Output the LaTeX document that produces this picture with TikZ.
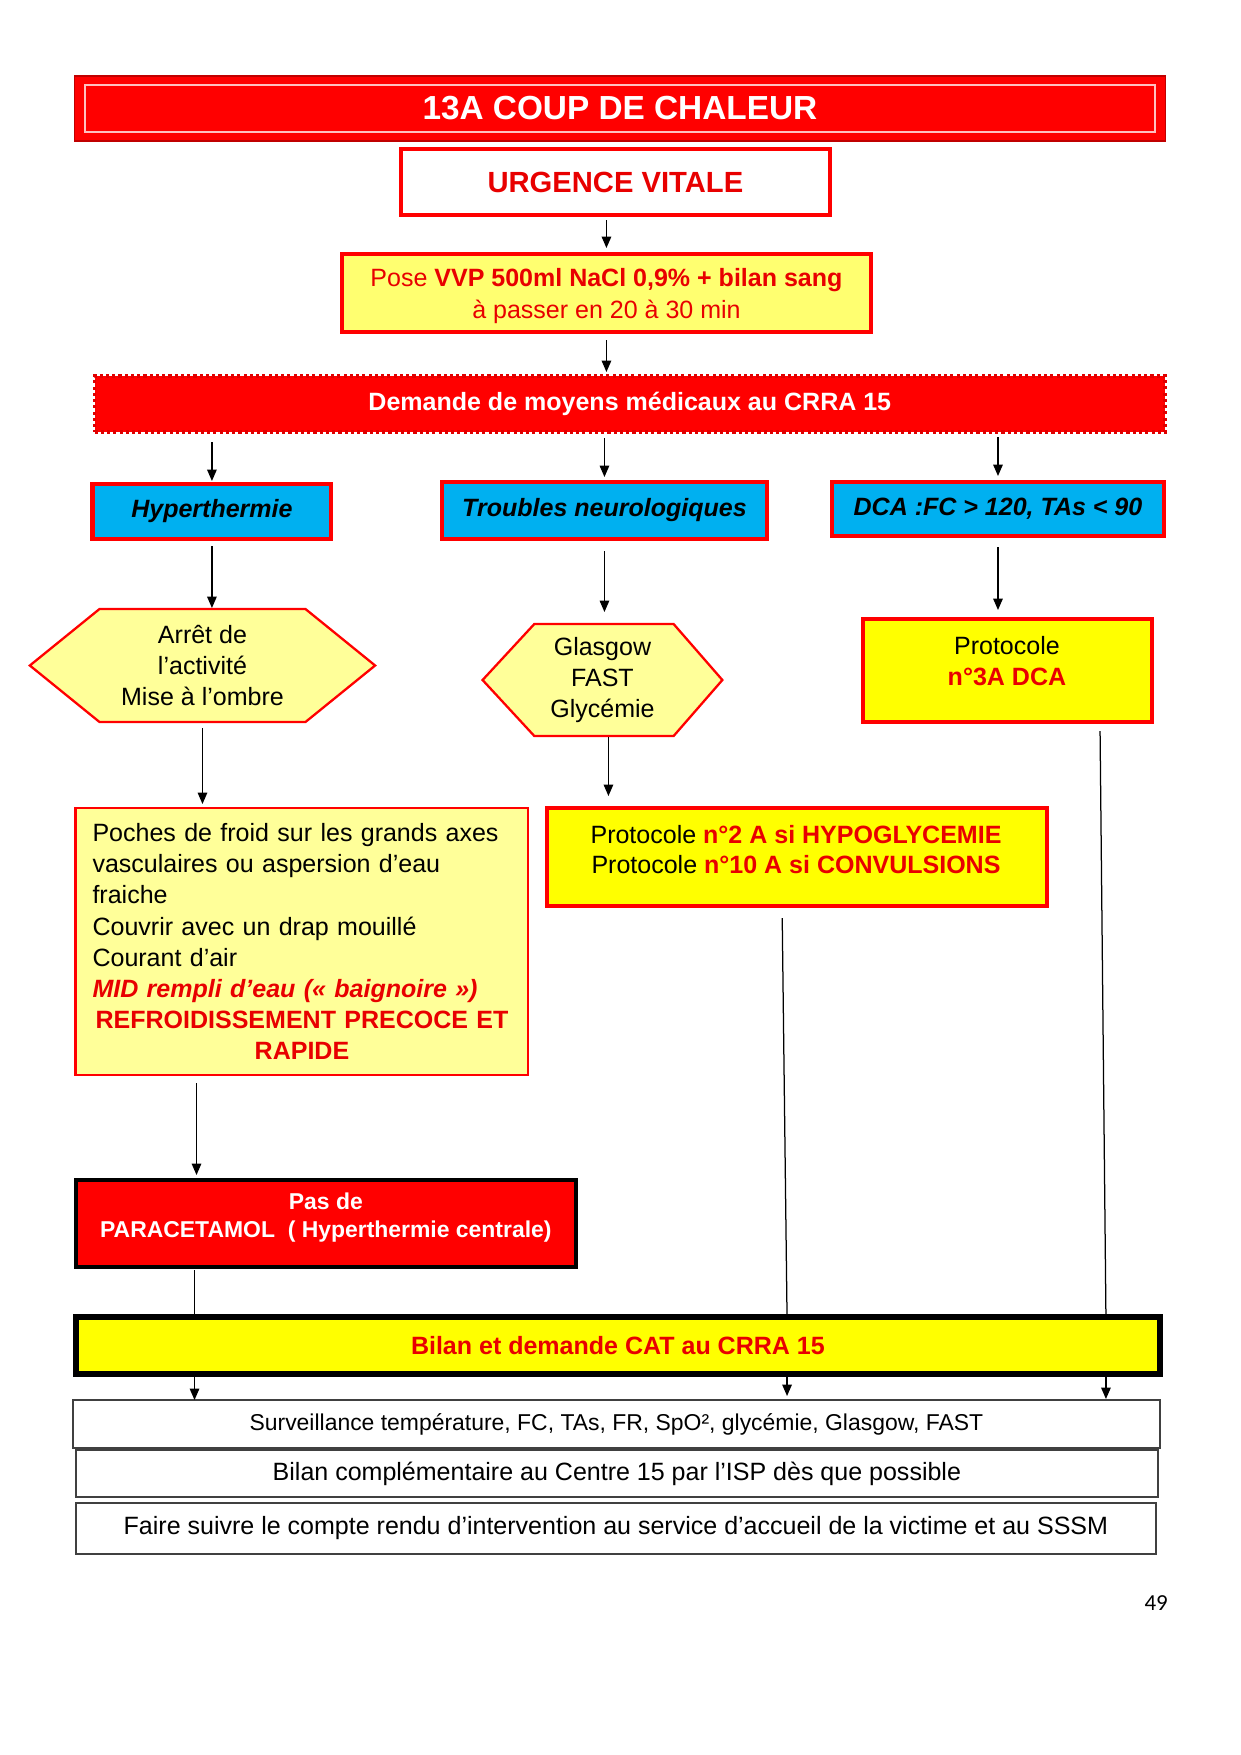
\documentclass[tikz,border=0pt]{standalone}
\usepackage{fontspec}
\setmainfont{Liberation Sans}
\newfontfamily\calib{Carlito}
\usetikzlibrary{arrows.meta,calc}
\pgfdeclarelayer{bg}
\pgfsetlayers{bg,main}
\newlength\pxu
\setlength\pxu{0.47968pt}
\newlength\pxw
\setlength\pxw{0.47728pt}
\definecolor{myred}{HTML}{FF0000}
\definecolor{textred}{HTML}{E80000}
\definecolor{darkred}{HTML}{C00000}
\definecolor{dotred}{HTML}{E00000}
\definecolor{lightyel}{HTML}{FFFF99}
\definecolor{vvpyel}{HTML}{FFFF70}
\definecolor{yel}{HTML}{FFFF00}
\definecolor{cyanblue}{HTML}{00B0F0}
\definecolor{framegray}{HTML}{404040}
\definecolor{pinkline}{HTML}{FFC0C0}
\tikzset{
  box/.style={rectangle, inner sep=0pt, outer sep=0pt, align=center,
    font=\fontsize{12}{14.9}\selectfont},
  arr/.style={line width=0.6pt, -{Triangle[length=5.5pt,width=4.6pt]}},
  ln/.style={line width=0.6pt},
  hexst/.style={fill=lightyel, draw=myred, line width=1.1pt, line join=miter},
  bluebox/.style={box, fill=cyanblue, draw=myred, line width=2pt,
    font=\bfseries\itshape\fontsize{12}{14.9}\selectfont},
  infobox/.style={box, fill=white, draw=framegray, line width=1pt},
}
\begin{document}
\begin{tikzpicture}[x=0.47728pt,y=-0.47968pt]
\useasboundingbox (0,0) rectangle (1247.2,1755);

% title
\node[box, fill=myred, draw=darkred, line width=0.6pt, minimum width=1096\pxw,
  minimum height=65\pxu, text=white, font=\bfseries\fontsize{16}{19}\selectfont]
  (title) at (623,108.5) {13A COUP DE CHALEUR};
\draw[pinkline, line width=1pt] ([shift={(10\pxw,-9\pxu)}]title.north west)
  rectangle ([shift={(-10\pxw,9\pxu)}]title.south east);

% urgence
\node[box, fill=white, draw=myred, line width=2.2pt, minimum width=431\pxw,
  minimum height=66\pxu, text=textred, font=\bfseries\fontsize{14}{17}\selectfont]
  (urg) at (618.5,182) {URGENCE VITALE};

% VVP
\node[box, fill=vvpyel, draw=myred, line width=1.9pt, minimum width=531\pxw,
  minimum height=78\pxu] (vvp) at (609.5,293) {};
\node[box, text=textred] (vvptxt) at (609.5,296)
  {Pose \textbf{VVP 500ml NaCl 0,9\% + bilan sang}\\à passer en 20 à 30 min};

% demande
\node[box, fill=myred, draw=dotred, line width=1.6pt, dash pattern=on 1.5pt off 1.5pt,
  minimum width=1076\pxw, minimum height=56\pxu, text=white,
  font=\bfseries\fontsize{12}{14.9}\selectfont]
  (dem) at (633,404) {Demande de moyens médicaux au CRRA 15};

% blue boxes
\node[bluebox, minimum width=240\pxw, minimum height=55\pxu] (hyp) at (213,511.5) {Hyperthermie};
\node[bluebox, minimum width=327\pxw, minimum height=57\pxu] (tro) at (607.5,510.5) {Troubles neurologiques};
\node[bluebox, minimum width=334\pxw, minimum height=54\pxu] (dca) at (1003,509) {DCA :FC > 120, TAs < 90};

% hexagons
\node[box, minimum width=347\pxw, minimum height=113\pxu,
  font=\fontsize{12}{15.1}\selectfont] (hex1) at (203.5,665.5)
  {Arrêt de\\l’activité\\Mise à l’ombre};
\node[box, minimum width=241\pxw, minimum height=112\pxu] (hex2) at (605.5,680)
  {Glasgow\\FAST\\Glycémie};
\begin{pgfonlayer}{bg}
\draw[hexst] (hex1.west) -- ([xshift=70\pxw]hex1.north west) -- ([xshift=-70\pxw]hex1.north east)
  -- (hex1.east) -- ([xshift=-70\pxw]hex1.south east) -- ([xshift=70\pxw]hex1.south west) -- cycle;
\draw[hexst] (hex2.west) -- ([xshift=52\pxw]hex2.north west) -- ([xshift=-49\pxw]hex2.north east)
  -- (hex2.east) -- ([xshift=-49\pxw]hex2.south east) -- ([xshift=52\pxw]hex2.south west) -- cycle;
\end{pgfonlayer}

% protocole 3A
\node[box, fill=yel, draw=myred, line width=2pt, minimum width=291\pxw,
  minimum height=103\pxu] (p3a) at (1012.5,670.5) {};
\node[box] (p3atxt) at (1012,661) {Protocole\\\textcolor{textred}{\bfseries n°3A DCA}};

% poches
\node[box, fill=lightyel, draw=myred, line width=1.1pt, align=left,
  inner xsep=17\pxw, text width=421\pxw, minimum height=267\pxu]
  (poches) at (303.5,941.5) {Poches de froid sur les grands axes\\
vasculaires ou aspersion d’eau\\
fraiche\\
Couvrir avec un drap mouillé\\
Courant d’air\\
\textcolor{textred}{\bfseries\itshape MID rempli d’eau (« baignoire »)}\\
\makebox[421\pxw]{\textcolor{textred}{\bfseries REFROIDISSEMENT PRECOCE ET}}\\
\makebox[421\pxw]{\textcolor{textred}{\bfseries RAPIDE}}};

% protocole 2
\node[box, fill=yel, draw=myred, line width=2pt, minimum width=502\pxw,
  minimum height=98\pxu] (p2) at (801,857) {};
\node[box, font=\fontsize{12}{14.4}\selectfont] (p2txt) at (800,850)
  {Protocole \textcolor{textred}{\bfseries n°2 A si HYPOGLYCEMIE}\\
   Protocole \textcolor{textred}{\bfseries n°10 A si CONVULSIONS}};

% paracetamol
\node[box, fill=myred, draw=black, line width=2pt, minimum width=503\pxw,
  minimum height=87\pxu] (para) at (327.5,1223.5) {};
\node[box, text=white, font=\bfseries\fontsize{11}{13.4}\selectfont] (paratxt) at (327.5,1218)
  {Pas de\\PARACETAMOL\ \ ( Hyperthermie centrale)};

% bilan CAT
\node[box, fill=yel, draw=black, line width=2.8pt, minimum width=1090\pxw,
  minimum height=57\pxu, text=textred, font=\bfseries\fontsize{12}{14.9}\selectfont]
  (bilan) at (621,1345.5) {Bilan et demande CAT au CRRA 15};

% info boxes
\node[infobox, minimum width=1093\pxw, minimum height=48\pxu,
  font=\fontsize{11}{13}\selectfont] (surv) at (619.5,1424)
  {Surveillance température, FC, TAs, FR, SpO², glycémie, Glasgow, FAST};
\node[infobox, minimum width=1088\pxw, minimum height=47\pxu] (bcomp) at (620,1473.5)
  {Bilan complémentaire au Centre 15 par l’ISP dès que possible};
\node[infobox, minimum width=1086\pxw, minimum height=51\pxu] (faire) at (619,1528.5)
  {Faire suivre le compte rendu d’intervention au service d’accueil de la victime et au SSSM};

\node[inner sep=0pt, font=\calib\fontsize{11}{13}\selectfont] (pg) at (1162,1603) {49};

% connectors
\draw[arr, shorten <=5\pxu, shorten >=6\pxu] (vvp.north |- urg.south) -- (vvp.north);
\draw[arr, shorten <=8\pxu, shorten >=4\pxu] (vvp.south) -- (vvp.south |- dem.north);
\draw[arr, shorten <=10\pxu, shorten >=3\pxu] (dem.south -| hyp.north) -- (hyp.north);
\draw[arr, shorten <=6\pxu, shorten >=5\pxu] (dem.south -| tro.north) -- (tro.north);
\draw[arr, shorten <=5\pxu, shorten >=6\pxu] (dem.south -| dca.north) -- (dca.north);
\draw[arr, shorten <=7\pxu, shorten >=1\pxu] (hyp.south) -- (hyp.south |- hex1.north);
\draw[arr, shorten <=12\pxu, shorten >=12\pxu] (tro.south) -- (tro.south |- hex2.north);
\draw[arr, shorten <=11\pxu, shorten >=9\pxu] (dca.south) -- (dca.south |- p3a.north);
\draw[arr, shorten <=6\pxu, shorten >=4\pxu] (hex1.south) -- (hex1.south |- poches.north);
\draw[arr, shorten <=1\pxu, shorten >=12\pxu] ([xshift=6\pxw]hex2.south) -- ([xshift=6\pxw]hex2.south |- p2.north);
\draw[arr, shorten <=8\pxu, shorten >=5\pxu] ([xshift=-106\pxw]poches.south) -- ([xshift=-106\pxw]poches.south |- para.north);
\draw[ln, shorten <=3\pxu] ([xshift=-132\pxw]para.south) -- ([xshift=-132\pxw]para.south |- bilan.north);
\draw[ln, shorten <=12\pxu] ([xshift=-15\pxw]p2.south) -- ([xshift=-10\pxw]p2.south |- bilan.north);
\draw[ln, shorten <=9\pxu] ([xshift=93\pxw]p3a.south) -- ([xshift=99\pxw]p3a.south |- bilan.north);
\draw[arr, shorten <=2\pxu] ([xshift=-132\pxw]para.south |- bilan.south) -- ([xshift=-132\pxw]para.south |- surv.north);
\draw[arr, shorten <=2\pxu, shorten >=4\pxu] ([xshift=-10\pxw]p2.south |- bilan.south) -- ([xshift=-10\pxw]p2.south |- surv.north);
\draw[arr, shorten <=2\pxu, shorten >=1\pxu] ([xshift=99\pxw]p3a.south |- bilan.south) -- ([xshift=99\pxw]p3a.south |- surv.north);
\end{tikzpicture}
\end{document}
